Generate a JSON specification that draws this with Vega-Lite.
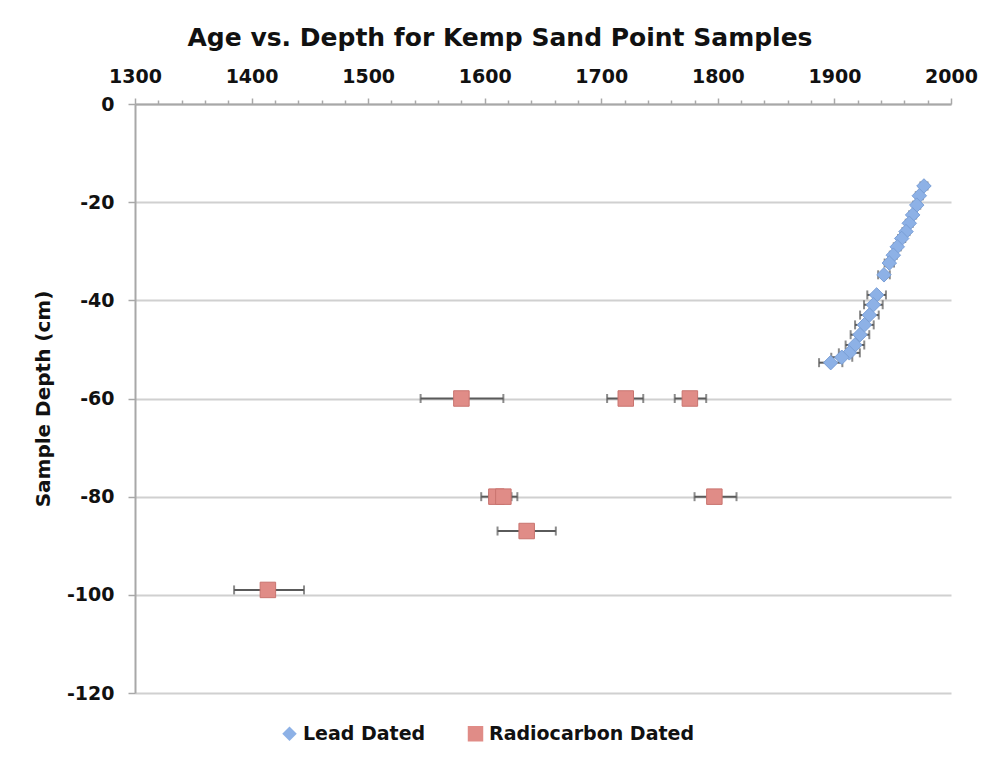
{
  "$schema": "https://vega.github.io/schema/vega-lite/v6.json",
  "autosize": {"type": "none"},
  "width": 816,
  "height": 589,
  "padding": {"left": 135, "top": 104, "right": 45, "bottom": 87},
  "background": "white",
  "title": {
    "text": "Age vs. Depth for Kemp Sand Point Samples",
    "font": "DejaVu Sans",
    "fontSize": 25,
    "fontWeight": "bold",
    "color": "#111111",
    "anchor": "middle",
    "dx": -43,
    "offset": 16
  },
  "datasets": {
    "samples": [
      {"series": "Lead Dated", "year": 1976.8, "depth": -16.7, "lo": 1973.8, "hi": 1979.8},
      {"series": "Lead Dated", "year": 1972.8, "depth": -18.7, "lo": 1969.8, "hi": 1975.8},
      {"series": "Lead Dated", "year": 1970.6, "depth": -20.6, "lo": 1967.6, "hi": 1973.6},
      {"series": "Lead Dated", "year": 1967.1, "depth": -22.6, "lo": 1964.1, "hi": 1970.1},
      {"series": "Lead Dated", "year": 1964.2, "depth": -24.3, "lo": 1961.2, "hi": 1967.2},
      {"series": "Lead Dated", "year": 1961.4, "depth": -26.0, "lo": 1958.4, "hi": 1964.4},
      {"series": "Lead Dated", "year": 1957.7, "depth": -27.4, "lo": 1954.7, "hi": 1960.7},
      {"series": "Lead Dated", "year": 1953.9, "depth": -29.1, "lo": 1950.9, "hi": 1956.9},
      {"series": "Lead Dated", "year": 1950.5, "depth": -30.8, "lo": 1947.5, "hi": 1953.5},
      {"series": "Lead Dated", "year": 1947.1, "depth": -32.4, "lo": 1943.1, "hi": 1951.1},
      {"series": "Lead Dated", "year": 1942.5, "depth": -34.8, "lo": 1937.5, "hi": 1947.5},
      {"series": "Lead Dated", "year": 1936.2, "depth": -38.9, "lo": 1928.2, "hi": 1944.2},
      {"series": "Lead Dated", "year": 1933.4, "depth": -40.9, "lo": 1925.4, "hi": 1941.4},
      {"series": "Lead Dated", "year": 1930.0, "depth": -43.0, "lo": 1922.0, "hi": 1938.0},
      {"series": "Lead Dated", "year": 1925.7, "depth": -45.0, "lo": 1917.7, "hi": 1933.7},
      {"series": "Lead Dated", "year": 1921.9, "depth": -47.0, "lo": 1913.9, "hi": 1929.9},
      {"series": "Lead Dated", "year": 1917.6, "depth": -49.1, "lo": 1909.6, "hi": 1925.6},
      {"series": "Lead Dated", "year": 1912.8, "depth": -50.7, "lo": 1903.8, "hi": 1921.8},
      {"series": "Lead Dated", "year": 1906.3, "depth": -51.6, "lo": 1897.3, "hi": 1915.3},
      {"series": "Lead Dated", "year": 1896.8, "depth": -52.7, "lo": 1886.8, "hi": 1906.8},
      {"series": "Radiocarbon Dated", "year": 1580, "depth": -60, "lo": 1545, "hi": 1616},
      {"series": "Radiocarbon Dated", "year": 1721, "depth": -60, "lo": 1705, "hi": 1736},
      {"series": "Radiocarbon Dated", "year": 1776, "depth": -60, "lo": 1763, "hi": 1790},
      {"series": "Radiocarbon Dated", "year": 1610, "depth": -80, "lo": 1597, "hi": 1623},
      {"series": "Radiocarbon Dated", "year": 1616, "depth": -80, "lo": 1604, "hi": 1628},
      {"series": "Radiocarbon Dated", "year": 1797, "depth": -80, "lo": 1780, "hi": 1816},
      {"series": "Radiocarbon Dated", "year": 1636, "depth": -87, "lo": 1611, "hi": 1661},
      {"series": "Radiocarbon Dated", "year": 1414, "depth": -99, "lo": 1385, "hi": 1445}
    ]
  },
  "data": {"name": "samples"},
  "layer": [
    {
      "mark": {"type": "errorbar", "ticks": {"size": 9}, "thickness": 2, "color": "#5a5a5a"},
      "encoding": {
        "x": {"field": "lo", "type": "quantitative", "scale": {"domain": [1300, 2000], "nice": false, "zero": false}},
        "x2": {"field": "hi"},
        "y": {"field": "depth", "type": "quantitative", "scale": {"domain": [-120, 0], "nice": false}}
      }
    },
    {
      "mark": {"type": "point", "filled": true, "opacity": 1, "strokeWidth": 1},
      "encoding": {
        "x": {
          "field": "year", "type": "quantitative",
          "scale": {"domain": [1300, 2000], "nice": false, "zero": false},
          "axis": {
            "orient": "top", "title": null,
            "values": [1300,1320,1340,1360,1380,1400,1420,1440,1460,1480,1500,1520,1540,1560,1580,1600,1620,1640,1660,1680,1700,1720,1740,1760,1780,1800,1820,1840,1860,1880,1900,1920,1940,1960,1980,2000],
            "tickCount": 60,
            "labelExpr": "datum.value % 100 === 0 ? toString(datum.value) : ''",
            "grid": false,
            "domainColor": "#a8a8a8", "domainWidth": 2,
            "tickColor": "#a8a8a8", "tickWidth": 1.5,
            "tickSize": {"condition": {"test": "datum.value % 100 === 0", "value": 6}, "value": 4},
            "labelPadding": 12,
            "labelFont": "DejaVu Sans", "labelFontSize": 19, "labelFontWeight": "bold", "labelColor": "#111111",
            "labelOverlap": false,
            "labelFlush": false
          }
        },
        "y": {
          "field": "depth", "type": "quantitative",
          "scale": {"domain": [-120, 0], "nice": false},
          "axis": {
            "title": "Sample Depth (cm)",
            "values": [-120, -100, -80, -60, -40, -20, 0],
            "tickCount": 20,
            "labelExpr": "toString(datum.value)",
            "grid": true, "gridColor": "#d0d0d0", "gridWidth": 2,
            "domainColor": "#a8a8a8", "domainWidth": 2,
            "tickColor": "#a8a8a8", "tickSize": 7, "tickWidth": 1.5,
            "labelPadding": 14,
            "labelFont": "DejaVu Sans", "labelFontSize": 19, "labelFontWeight": "bold", "labelColor": "#111111",
            "labelOverlap": false,
            "labelFlush": false,
            "titleFont": "DejaVu Sans", "titleFontSize": 20, "titleFontWeight": "bold", "titleColor": "#111111",
            "titlePadding": 13
          }
        },
        "color": {
          "field": "series", "type": "nominal",
          "scale": {"domain": ["Lead Dated", "Radiocarbon Dated"], "range": ["#8db1e6", "#e08c87"]},
          "legend": {
            "title": null, "orient": "none", "direction": "horizontal",
            "legendX": 145, "legendY": 620,
            "labelFont": "DejaVu Sans", "labelFontSize": 19, "labelFontWeight": "bold", "labelColor": "#111111",
            "labelLimit": 400,
            "symbolSize": 90, "symbolStrokeWidth": 0, "columnPadding": 40, "labelOffset": 4
          }
        },
        "shape": {
          "field": "series", "type": "nominal",
          "scale": {"domain": ["Lead Dated", "Radiocarbon Dated"], "range": ["diamond", "square"]},
          "legend": null
        },
        "size": {
          "field": "series", "type": "nominal",
          "scale": {"domain": ["Lead Dated", "Radiocarbon Dated"], "range": [210, 240]},
          "legend": null
        },
        "stroke": {
          "field": "series", "type": "nominal",
          "scale": {"domain": ["Lead Dated", "Radiocarbon Dated"], "range": ["#7a9fd6", "#c9746f"]},
          "legend": null
        }
      }
    }
  ],
  "config": {
    "view": {"stroke": null},
    "axis": {"labelOverlap": false, "labelFlush": false},
    "axisX": {"tickCount": 60}
  }
}
